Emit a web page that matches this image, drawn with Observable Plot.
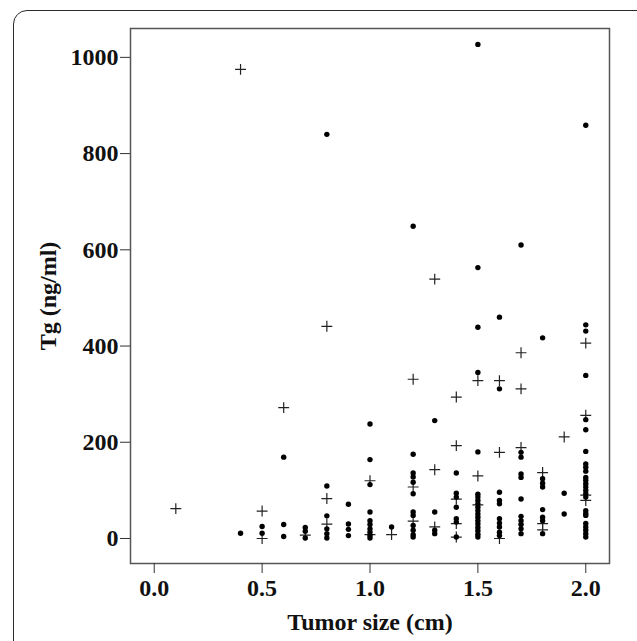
<!DOCTYPE html>
<html>
<head>
<meta charset="utf-8">
<script src="https://cdn.jsdelivr.net/npm/d3@7"></script>
<script src="https://cdn.jsdelivr.net/npm/@observablehq/plot@0.6"></script>
<style>
  html, body { margin: 0; padding: 0; background: #fff; }
  #wrap { position: relative; width: 637px; height: 641px; overflow: hidden; }
  #border { position: absolute; left: 13px; top: 10px; width: 640px; height: 660px;
            border: 1.5px solid #2a2a2a; border-radius: 14px; box-sizing: border-box; pointer-events: none; }
  #wrap svg text { font-family: 'Liberation Serif', 'Times New Roman', serif !important;
                   font-weight: bold !important; font-size: 24px !important; fill: #111; }
</style>
</head>
<body>
<div id="wrap"><div id="border"></div></div>
<script>
// Filled-circle observations: tumor size (cm) and Tg (ng/ml)
const dotSize = [
  0.4,
  0.5, 0.5,
  0.6, 0.6, 0.6,
  0.7, 0.7, 0.7,
  0.8, 0.8, 0.8, 0.8, 0.8, 0.8,
  0.9, 0.9, 0.9, 0.9,
  1.0, 1.0, 1.0, 1.0, 1.0, 1.0, 1.0, 1.0, 1.0, 1.0,
  1.1,
  1.2, 1.2, 1.2, 1.2, 1.2, 1.2, 1.2, 1.2, 1.2, 1.2, 1.2, 1.2,
  1.3, 1.3, 1.3, 1.3,
  1.4, 1.4, 1.4, 1.4, 1.4, 1.4, 1.4,
  1.5, 1.5, 1.5, 1.5, 1.5, 1.5, 1.5, 1.5, 1.5, 1.5, 1.5, 1.5, 1.5, 1.5, 1.5, 1.5, 1.5, 1.5, 1.5,
  1.6, 1.6, 1.6, 1.6, 1.6, 1.6, 1.6, 1.6, 1.6, 1.6,
  1.7, 1.7, 1.7, 1.7, 1.7, 1.7, 1.7, 1.7, 1.7, 1.7, 1.7,
  1.8, 1.8, 1.8, 1.8, 1.8, 1.8, 1.8, 1.8,
  1.9, 1.9,
  2.0, 2.0, 2.0, 2.0, 2.0, 2.0, 2.0, 2.0, 2.0, 2.0, 2.0, 2.0, 2.0, 2.0, 2.0, 2.0, 2.0, 2.0, 2.0, 2.0, 2.0, 2.0, 2.0, 2.0, 2.0
];
const dotTg = [
  11,
  25, 11,
  169, 29, 4,
  23, 15, 1,
  840, 109, 47, 20, 10, 1,
  71, 30, 19, 6,
  238, 164, 112, 55, 37, 29, 20, 13, 6, 1,
  24,
  649, 175, 136, 128, 117, 93, 55, 48, 27, 17, 8, 3,
  245, 55, 17, 10,
  136, 94, 86, 65, 41, 34, 3,
  1027, 563, 439, 345, 180, 92, 86, 79, 72, 65, 58, 51, 44, 37, 30, 23, 16, 9, 3,
  460, 311, 96, 79, 72, 41, 32, 24, 13, 6,
  610, 179, 169, 134, 127, 82, 46, 37, 29, 20, 10,
  417, 124, 115, 107, 60, 44, 37, 10,
  94, 51,
  859, 444, 431, 339, 247, 226, 181, 155, 148, 140, 127, 121, 114, 107, 100, 93, 86, 58, 52, 48, 31, 24, 17, 10, 3
];
// Plus-marker observations
const plusSize = [
  0.1, 0.4, 0.5, 0.5, 0.6, 0.7,
  0.8, 0.8, 0.8,
  1.0, 1.0, 1.1,
  1.2, 1.2, 1.2,
  1.3, 1.3, 1.3,
  1.4, 1.4, 1.4, 1.4, 1.4,
  1.5, 1.5, 1.5,
  1.6, 1.6, 1.6,
  1.7, 1.7, 1.7,
  1.8, 1.8, 1.8,
  1.9,
  2.0, 2.0, 2.0, 2.0
];
const plusTg = [
  62, 975, 57, 0, 272, 7,
  441, 83, 30,
  120, 8, 8,
  331, 107, 36,
  539, 143, 24,
  294, 193, 82, 31, 3,
  328, 130, 70,
  328, 179, 0,
  386, 311, 189,
  137, 31, 18,
  211,
  406, 256, 90, 79
];
const xTicks = [0, 0.5, 1.0, 1.5, 2.0];
const yTicks = [0, 200, 400, 600, 800, 1000];

const dots = dotSize.map((s, i) => ({size: s, tg: dotTg[i]}));
const pluses = plusSize.map((s, i) => ({size: s, tg: plusTg[i]}));

const chart = Plot.plot({
  width: 637,
  height: 641,
  marginLeft: 130,
  marginRight: 28,
  marginTop: 28,
  marginBottom: 78,
  style: {background: "transparent"},
  x: {domain: [-0.11, 2.11]},
  y: {domain: [-52, 1060]},
  marks: [
    Plot.frame({stroke: "#555", strokeWidth: 1.5}),
    Plot.axisY({ticks: yTicks, tickSize: 10, tickPadding: 2, tickFormat: d => String(d),
      label: "Tg (ng/ml)", labelAnchor: "center", labelOffset: 92, labelArrow: "none",
      stroke: "#333"}),
    Plot.axisX({ticks: xTicks, tickSize: 10, tickPadding: 5, tickFormat: d3.format(".1f"),
      label: "Tumor size (cm)", labelAnchor: "center", labelOffset: 66, labelArrow: "none",
      stroke: "#333"}),
    Plot.dot(pluses, {x: "size", y: "tg", symbol: "plus", r: 3.6, stroke: "#222", strokeWidth: 1.2, fill: "none"}),
    Plot.dot(dots, {x: "size", y: "tg", r: 2.7, fill: "#000", stroke: "none"})
  ]
});
document.getElementById("wrap").prepend(chart);
</script>
</body>
</html>
